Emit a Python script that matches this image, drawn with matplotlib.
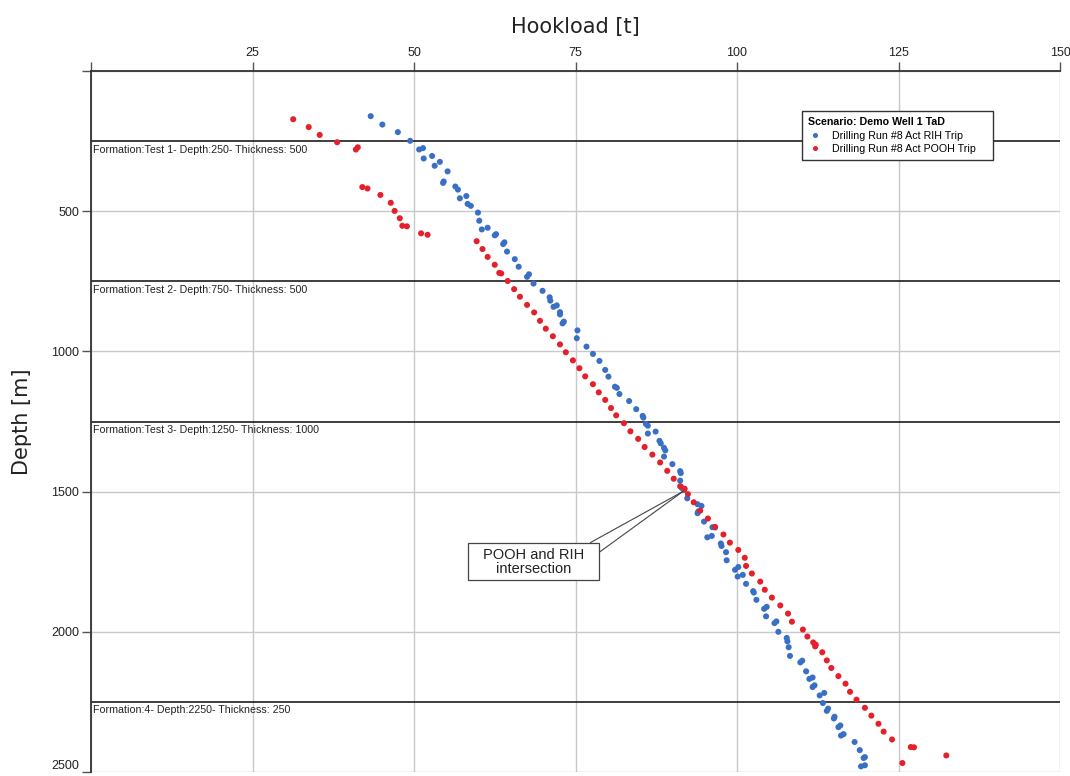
import matplotlib
matplotlib.use("Agg")
import matplotlib.pyplot as plt
from matplotlib.patches import Rectangle
from matplotlib.lines import Line2D

# Trip run while running in hole (RIH): hookload [t] and depth [m]
rih_hookload = [43.3, 45.1, 47.5, 49.4, 50.8, 51.4, 51.5, 52.8, 53.2, 54.0,
                55.2, 54.6, 54.5, 56.4, 56.8, 57.1, 58.1, 58.3, 58.8, 59.9,
                60.1, 60.5, 61.4, 62.5, 62.7, 63.8, 64.0, 64.4, 65.6, 66.2,
                67.8, 67.5, 68.5, 69.9, 71.0, 71.1, 71.6, 72.1, 72.6, 72.6,
                73.2, 73.0, 75.3, 75.2, 76.7, 77.7, 78.7, 79.6, 80.1, 81.1,
                81.4, 81.8, 83.3, 84.4, 85.4, 85.5, 85.9, 86.2, 86.2, 87.4,
                88.0, 88.2, 88.7, 88.9, 88.7, 90.0, 91.2, 91.3, 91.2, 91.3,
                91.5, 91.8, 92.3, 93.9, 94.5, 94.0, 93.9, 94.9, 96.2, 96.6,
                95.4, 96.1, 97.5, 97.6, 98.3, 98.4, 99.7, 100.2, 100.1, 100.9,
                101.4, 102.5, 102.6, 103.0, 104.2, 104.6, 104.5, 105.8, 106.1, 106.4,
                107.7, 107.8, 108.0, 108.2, 109.8, 110.1, 110.7, 111.2, 111.7, 111.7,
                112.0, 112.8, 113.5, 113.3, 113.9, 114.1, 115.0, 115.1, 115.7, 116.0,
                116.1, 116.5, 118.2, 119.0, 119.6, 119.8, 119.2, 119.8]
rih_depth = [161, 191, 218, 249, 280, 275, 312, 303, 338, 324,
             358, 394, 399, 412, 423, 454, 446, 474, 481, 505,
             534, 565, 559, 586, 582, 617, 611, 644, 671, 698,
             725, 734, 758, 784, 807, 819, 841, 836, 860, 868,
             894, 900, 925, 953, 983, 1009, 1034, 1066, 1090, 1126,
             1130, 1152, 1177, 1206, 1230, 1236, 1259, 1265, 1293, 1286,
             1319, 1328, 1344, 1353, 1375, 1402, 1427, 1434, 1461, 1482,
             1488, 1494, 1524, 1545, 1551, 1571, 1577, 1607, 1627, 1628,
             1663, 1658, 1685, 1694, 1716, 1745, 1779, 1769, 1803, 1797,
             1829, 1855, 1860, 1886, 1918, 1911, 1945, 1969, 1963, 2000,
             2022, 2034, 2055, 2086, 2109, 2103, 2141, 2168, 2163, 2197,
             2191, 2227, 2218, 2254, 2282, 2274, 2309, 2303, 2340, 2334,
             2370, 2365, 2393, 2422, 2450, 2447, 2480, 2476]

# Trip run while pulling out of hole (POOH)
pooh_hookload = [31.3, 33.7, 35.4, 38.1, 41.0, 41.3, 42.0, 42.8, 44.8, 46.4,
                 47.0, 47.8, 48.2, 48.9, 51.1, 52.1, 59.7, 60.6, 61.4, 62.5,
                 63.2, 63.5, 64.5, 65.5, 66.4, 67.5, 68.6, 69.5, 70.4, 71.5,
                 72.6, 73.5, 74.6, 75.6, 76.5, 77.7, 78.6, 79.6, 80.5, 81.3,
                 82.5, 83.5, 84.7, 85.7, 86.9, 88.1, 89.2, 90.2, 91.2, 91.9,
                 92.4, 93.3, 94.3, 95.5, 96.6, 97.9, 98.9, 100.2, 101.2, 101.4,
                 102.3, 103.6, 104.3, 105.4, 106.7, 107.9, 108.5, 110.2, 110.9, 111.8,
                 112.1, 112.2, 113.2, 113.9, 114.6, 115.7, 116.8, 117.5, 118.5, 119.8,
                 120.8, 121.9, 122.7, 124.0, 126.9, 127.4, 132.4, 125.6]
pooh_depth = [172, 200, 228, 254, 280, 272, 414, 419, 442, 470,
              499, 525, 552, 554, 579, 584, 607, 635, 663, 691,
              720, 722, 749, 778, 805, 834, 861, 891, 919, 946,
              975, 1003, 1032, 1060, 1089, 1117, 1146, 1173, 1202, 1228,
              1256, 1285, 1312, 1341, 1368, 1396, 1426, 1454, 1481, 1490,
              1509, 1538, 1568, 1596, 1626, 1653, 1682, 1708, 1736, 1765,
              1792, 1821, 1850, 1878, 1906, 1935, 1964, 1992, 2017, 2038,
              2052, 2046, 2073, 2102, 2129, 2158, 2185, 2214, 2242, 2271,
              2299, 2328, 2356, 2384, 2411, 2412, 2441, 2468]

# Formation tops
formation_names = ["Test 1", "Test 2", "Test 3", "4"]
formation_depths = [250, 750, 1250, 2250]
formation_thickness = [500, 500, 1000, 250]

x_ticks = [0, 25, 50, 75, 100, 125, 150]
x_tick_labels = ["", "25", "50", "75", "100", "125", "150"]
y_ticks = [0, 500, 1000, 1500, 2000, 2500]
y_tick_labels = ["", "500", "1000", "1500", "2000", "2500"]
intersection = (91.6, 1500)

BLUE = "#3a6fc6"
RED = "#e4202a"
SANS = ["Liberation Sans", "DejaVu Sans"]

fig = plt.figure(figsize=(10.7, 7.76), dpi=100)
ax = fig.add_axes([91 / 1070, 1 - 772 / 776, (1060 - 91) / 1070, (772 - 71) / 776])

ax.set_xlim(0, 150)
ax.set_ylim(2500, 0)
ax.xaxis.tick_top()
ax.xaxis.set_label_position("top")
ax.set_xticks(x_ticks, x_tick_labels)
ax.set_yticks(y_ticks, y_tick_labels)
ax.tick_params(axis="both", direction="out", length=6.5, width=1, color="#555555",
               labelsize=9, labelcolor="#222222", pad=2)
for lab in ax.get_xticklabels() + ax.get_yticklabels():
    lab.set_family(SANS)
# keep the deepest label inside the canvas
ax.get_yticklabels()[-1].set_verticalalignment("bottom")

ax.grid(True, color="#c8c8c8", lw=1)
ax.set_axisbelow(True)
for side in ("right", "bottom"):
    ax.spines[side].set_visible(False)
for side in ("top", "left"):
    ax.spines[side].set_color("#333333")
    ax.spines[side].set_linewidth(1.3)

ax.set_xlabel("Hookload [t]", fontsize=15, labelpad=10, family="DejaVu Sans", color="#222222")
ax.set_ylabel("Depth [m]", fontsize=15, labelpad=14, family="DejaVu Sans", color="#222222")

# Formation top lines and labels
for name, depth, thick in zip(formation_names, formation_depths, formation_thickness):
    ax.axhline(depth, color="#1e1e1e", lw=1.2, zorder=1.5)
    ax.annotate(f"Formation:{name}- Depth:{depth}- Thickness: {thick}",
                xy=(0, depth), xycoords=("axes fraction", "data"),
                xytext=(1.5, -2.5), textcoords="offset points",
                ha="left", va="top", fontsize=7.7, family=SANS, color="#222222")

ax.scatter(rih_hookload, rih_depth, s=19, color=BLUE, edgecolors="none", zorder=3)
ax.scatter(pooh_hookload, pooh_depth, s=19, color=RED, edgecolors="none", zorder=3)

# Callout for the crossing of both trip curves
ax.add_patch(Rectangle((58.3, 1684), 20.4, 133, facecolor="white",
                       edgecolor="#444444", lw=0.9, zorder=4))
ax.text(68.5, 1751, "POOH and RIH\nintersection", ha="center", va="center",
        fontsize=10.5, family=SANS, color="#222222", linespacing=1.05, zorder=5)
for start in [(77.3, 1682), (78.7, 1716)]:
    ax.annotate("", xy=intersection, xytext=start,
                arrowprops=dict(arrowstyle="-", color="#444444", lw=0.8,
                                shrinkA=0, shrinkB=0), zorder=4)

handles = [Line2D([], [], ls="none", marker="o", ms=2.6, color=BLUE,
                  label="Drilling Run #8 Act RIH Trip"),
           Line2D([], [], ls="none", marker="o", ms=2.6, color=RED,
                  label="Drilling Run #8 Act POOH Trip")]
leg_x0 = (802 - 91) / 969
leg_w = (993 - 802) / 969
leg_top = 1 - (111 - 71) / 701
leg = ax.legend(handles=handles, title="Scenario: Demo Well 1 TaD",
                loc="upper left", bbox_to_anchor=(leg_x0, leg_top - 0.2, leg_w, 0.2),
                mode="expand",
                fancybox=False, framealpha=1, edgecolor="#333333",
                prop={"family": SANS, "size": 7.7},
                title_fontproperties={"family": SANS, "size": 7.7, "weight": "bold"},
                alignment="left", handlelength=1.2, handletextpad=1.0,
                borderpad=0.6, labelspacing=0.3, borderaxespad=0)
leg.get_frame().set_linewidth(1.0)
leg.set_zorder(6)

fig.savefig("out.png", dpi=100)
